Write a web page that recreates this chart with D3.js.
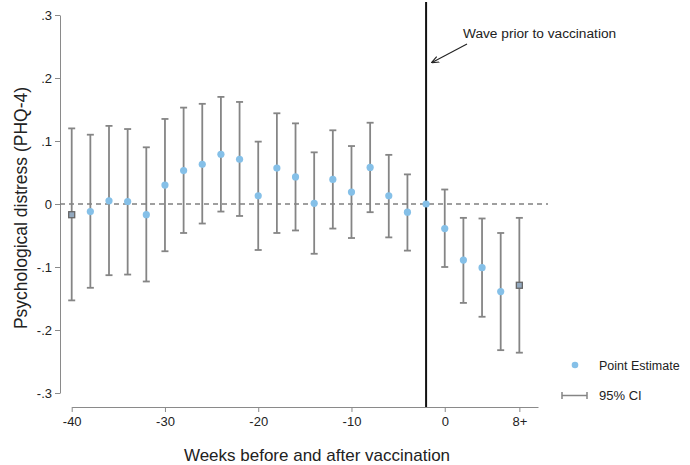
<!DOCTYPE html>
<html><head><meta charset="utf-8">
<script src="https://cdn.jsdelivr.net/npm/d3@7"></script>
<style>body{margin:0;background:#fff}svg{display:block}text{font-family:"Liberation Sans",Arial,sans-serif}</style>
</head><body><svg id="c" width="690" height="465"></svg>
<script>
const weeks = [-40,-38,-36,-34,-32,-30,-28,-26,-24,-22,-20,-18,-16,-14,-12,-10,-8,-6,-4,-2,0,2,4,6,8];
const estimate = [-0.017,-0.012,0.005,0.004,-0.017,0.030,0.053,0.063,0.079,0.071,0.013,0.057,0.043,0.001,0.039,0.019,0.058,0.013,-0.013,0,-0.039,-0.089,-0.101,-0.139,-0.129];
const ciLow = [-0.153,-0.133,-0.113,-0.112,-0.123,-0.075,-0.046,-0.031,-0.012,-0.019,-0.073,-0.046,-0.042,-0.079,-0.039,-0.054,-0.013,-0.053,-0.074,null,-0.100,-0.157,-0.179,-0.232,-0.236];
const ciHigh = [0.120,0.110,0.124,0.119,0.090,0.135,0.153,0.159,0.170,0.162,0.099,0.144,0.128,0.082,0.117,0.092,0.129,0.078,0.047,null,0.023,-0.022,-0.023,-0.046,-0.022];
const squareWeeks = [-40, 8];
const xTicks = [-40,-30,-20,-10,0,8];
const xTickLabels = ["-40","-30","-20","-10","0","8+"];
const yTicks = [0.3,0.2,0.1,0,-0.1,-0.2,-0.3];
const yTickLabels = [".3",".2",".1","0","-.1","-.2","-.3"];
const vaccLineWeek = -2;

const svg = d3.select("#c");
const x = d3.scaleLinear().domain([-40,10]).range([71.7,538]);
const y = d3.scaleLinear().domain([-0.3,0.3]).range([393,15]);
const axisCol = "#8a8a8a", ciCol = "#858585";

// y axis
const ya = svg.append("g").attr("transform","translate(60,0)")
  .call(d3.axisLeft(y).tickValues(yTicks).tickFormat((d,i)=>yTickLabels[i]).tickSize(5).tickSizeOuter(0));
ya.select(".domain").attr("stroke",axisCol);
ya.selectAll(".tick line").attr("stroke",axisCol);
ya.selectAll(".tick text").attr("fill","#222").style("font-size","13px").attr("x",-8);

// x axis
const xa = svg.append("g").attr("transform","translate(0,407)")
  .call(d3.axisBottom(x).tickValues(xTicks).tickFormat((d,i)=>xTickLabels[i]).tickSize(5).tickSizeOuter(0));
xa.select(".domain").attr("stroke",axisCol);
xa.selectAll(".tick line").attr("stroke",axisCol);
xa.selectAll(".tick text").attr("fill","#222").style("font-size","13px").attr("y",10);

// zero line
svg.append("line").attr("x1",60).attr("x2",548).attr("y1",y(0)).attr("y2",y(0))
  .attr("stroke","#808080").attr("stroke-width",1.3).attr("stroke-dasharray","5,4");

// vertical vaccination line
svg.append("line").attr("x1",x(vaccLineWeek)).attr("x2",x(vaccLineWeek)).attr("y1",2).attr("y2",407)
  .attr("stroke","#111").attr("stroke-width",2);

const data = weeks.map((w,i)=>({w, e:estimate[i], lo:ciLow[i], hi:ciHigh[i]}));
const ci = data.filter(d=>d.lo!==null);
const g = svg.append("g");
g.selectAll("line.ci").data(ci).join("line").attr("x1",d=>x(d.w)).attr("x2",d=>x(d.w))
  .attr("y1",d=>y(d.lo)).attr("y2",d=>y(d.hi)).attr("stroke",ciCol).attr("stroke-width",1.8);
[ "lo","hi" ].forEach(k=>{
  g.selectAll("line.cap"+k).data(ci).join("line").attr("x1",d=>x(d.w)-3.5).attr("x2",d=>x(d.w)+3.5)
    .attr("y1",d=>y(d[k])).attr("y2",d=>y(d[k])).attr("stroke",ciCol).attr("stroke-width",1.8);
});
const circ = data.filter(d=>!squareWeeks.includes(d.w));
g.selectAll("circle").data(circ).join("circle").attr("cx",d=>x(d.w)).attr("cy",d=>y(d.e)).attr("r",3.6).attr("fill","#85c0e8");
const sq = data.filter(d=>squareWeeks.includes(d.w));
g.selectAll("rect").data(sq).join("rect").attr("x",d=>x(d.w)-3).attr("y",d=>y(d.e)-3).attr("width",6).attr("height",6)
  .attr("fill","#93a9bf").attr("stroke","#666").attr("stroke-width",1.3);

// axis titles
svg.append("text").attr("x",317).attr("y",461).attr("text-anchor","middle").attr("fill","#222").style("font-size","17px").text("Weeks before and after vaccination");
svg.append("text").attr("transform","translate(27,208) rotate(-90)").attr("text-anchor","middle").attr("fill","#222").style("font-size","17.5px").text("Psychological distress (PHQ-4)");

// annotation
svg.append("defs").append("marker").attr("id","ah").attr("viewBox","0 0 10 10").attr("refX",9).attr("refY",5)
  .attr("markerWidth",7).attr("markerHeight",7).attr("orient","auto")
  .append("path").attr("d","M0,1 L10,5 L0,9").attr("fill","none").attr("stroke","#222").attr("stroke-width",1.5);
svg.append("line").attr("x1",467).attr("y1",44).attr("x2",432).attr("y2",62.5).attr("stroke","#222").attr("stroke-width",1.1).attr("marker-end","url(#ah)");
svg.append("text").attr("x",463).attr("y",37.5).attr("fill","#222").style("font-size","13.7px").text("Wave prior to vaccination");

// legend
svg.append("circle").attr("cx",575).attr("cy",365).attr("r",3.3).attr("fill","#85c0e8");
svg.append("text").attr("x",599).attr("y",369.5).attr("fill","#222").style("font-size","12.5px").text("Point Estimate");
svg.append("line").attr("x1",562).attr("x2",587).attr("y1",395.5).attr("y2",395.5).attr("stroke",ciCol).attr("stroke-width",1.5);
[562,587].forEach(px=>svg.append("line").attr("x1",px).attr("x2",px).attr("y1",392).attr("y2",399).attr("stroke",ciCol).attr("stroke-width",1.5));
svg.append("text").attr("x",599).attr("y",400).attr("fill","#222").style("font-size","13px").text("95% CI");
</script></body></html>
